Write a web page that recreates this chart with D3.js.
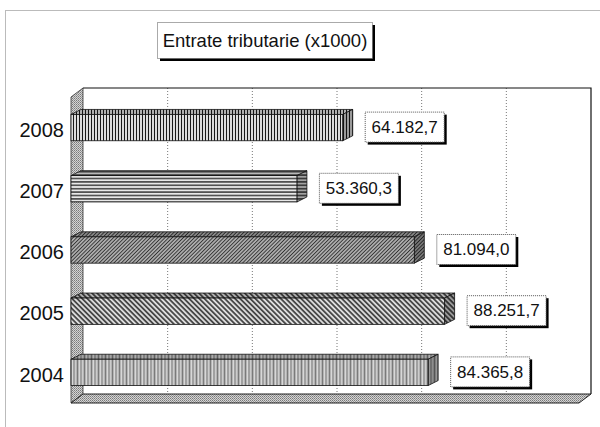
<!DOCTYPE html>
<html>
<head>
<meta charset="utf-8">
<script src="https://cdn.jsdelivr.net/npm/d3@7"></script>
<style>
  body { margin: 0; background: #fff; }
  text { font-family: Arial, "Liberation Sans", sans-serif; fill: #111; }
</style>
</head>
<body>
<div id="chart"></div>
<script>
// data
const years = ['2008', '2007', '2006', '2005', '2004'];
const values = [64182.7, 53360.3, 81094.0, 88251.7, 84365.8];
const patterns = ['pVert', 'pHorz', 'pDiagA', 'pDiagB', 'pGray'];
const axisMax = 120000;
const gridStep = 20000;
const title = 'Entrate tributarie (x1000)';

const width = 600, height = 427;
const ro = d3.formatLocale({ decimal: ',', thousands: '.', grouping: [3], currency: ['', ''] });
const fmt = ro.format(',.1f');

const svg = d3.select('#chart').append('svg')
  .attr('width', width)
  .attr('height', height);

const defs = svg.append('defs');

// hatch patterns used by the bars
function linePattern(id, size, bg, stroke, sw, rot, horizontal) {
  const p = defs.append('pattern')
    .attr('id', id)
    .attr('patternUnits', 'userSpaceOnUse')
    .attr('width', size).attr('height', size);
  if (rot) p.attr('patternTransform', `rotate(${rot})`);
  p.append('rect').attr('width', size).attr('height', size).attr('fill', bg);
  if (horizontal) {
    p.append('line').attr('x1', 0).attr('x2', size).attr('y1', size / 2).attr('y2', size / 2)
      .attr('stroke', stroke).attr('stroke-width', sw);
  } else {
    p.append('line').attr('y1', 0).attr('y2', size).attr('x1', size / 2).attr('x2', size / 2)
      .attr('stroke', stroke).attr('stroke-width', sw);
  }
}
linePattern('pVert', 3, '#fff', '#1a1a1a', 1.3, 0, false);
linePattern('pHorz', 3.4, '#e8e8e8', '#222', 1.3, 0, true);
linePattern('pDiagA', 2.6, '#c8c8c8', '#333', 1.2, 45, false);
linePattern('pDiagB', 3.6, '#dcdcdc', '#2a2a2a', 1.5, -45, false);

// grey noisy vertical stripes (2004)
const pg = defs.append('pattern').attr('id', 'pGray')
  .attr('patternUnits', 'userSpaceOnUse').attr('width', 7).attr('height', 4);
pg.append('rect').attr('width', 7).attr('height', 4).attr('fill', '#b4b4b4');
[[0.5, '#7a7a7a'], [2.5, '#d8d8d8'], [4, '#8c8c8c'], [5.5, '#cccccc']].forEach(([x, c]) => {
  pg.append('line').attr('x1', x).attr('x2', x).attr('y1', 0).attr('y2', 4)
    .attr('stroke', c).attr('stroke-width', 1);
});

// dotted shading for the walls
const pd = defs.append('pattern').attr('id', 'pDots')
  .attr('patternUnits', 'userSpaceOnUse').attr('width', 2).attr('height', 2);
pd.append('rect').attr('width', 2).attr('height', 2).attr('fill', '#d4d4d4');
pd.append('rect').attr('width', 1).attr('height', 1).attr('fill', '#7a7a7a');
pd.append('rect').attr('x', 1).attr('y', 1).attr('width', 1).attr('height', 1).attr('fill', '#969696');

// outer dotted frame
svg.append('rect')
  .attr('x', 5.5).attr('y', 10.5).attr('width', 620).attr('height', 440)
  .attr('fill', 'none').attr('stroke', '#777').attr('stroke-dasharray', '1,1');

// front plane scales; the back wall is shifted by the depth
const wallDx = 12, wallDy = -9;
const barDx = 10, barDy = -5;

const x = d3.scaleLinear().domain([0, axisMax]).range([71, 579]);
const y = d3.scaleBand().domain(years).range([97, 403]).paddingInner(0.57).paddingOuter(0.285);

const yTop = 97, yBot = 403;

// left wall
svg.append('path')
  .attr('d', `M${x(0)},${yTop}L${x(0) + wallDx},${yTop + wallDy}L${x(0) + wallDx},${yBot + wallDy}L${x(0)},${yBot}Z`)
  .attr('fill', 'url(#pDots)').attr('stroke', '#333').attr('stroke-width', 0.8);

// floor
svg.append('path')
  .attr('d', `M${x(0)},${yBot}L${x(0) + wallDx},${yBot + wallDy}L${x(axisMax) + wallDx},${yBot + wallDy}L${x(axisMax)},${yBot}Z`)
  .attr('fill', 'url(#pDots)').attr('stroke', '#222').attr('stroke-width', 1);

// back wall gridlines
const ticks = d3.range(gridStep, axisMax, gridStep);
svg.append('g').selectAll('line')
  .data(ticks)
  .join('line')
  .attr('x1', d => x(d) + wallDx).attr('x2', d => x(d) + wallDx)
  .attr('y1', yTop + wallDy).attr('y2', yBot + wallDy)
  .attr('stroke', '#777').attr('stroke-dasharray', '1,2');

// back wall frame (top and right)
svg.append('path')
  .attr('d', `M${x(0) + wallDx},${yTop + wallDy}H${x(axisMax) + wallDx}V${yBot + wallDy}`)
  .attr('fill', 'none').attr('stroke', '#111').attr('stroke-width', 1.2);

// bars
const bars = svg.append('g').selectAll('g')
  .data(years.map((yr, i) => ({ yr, v: values[i], pat: patterns[i] })))
  .join('g');

bars.each(function (d) {
  const g = d3.select(this);
  const x0 = x(0), x1 = x(d.v);
  const y0 = y(d.yr), y1 = y(d.yr) + y.bandwidth();
  // top face
  const top = `M${x0},${y0}L${x0 + barDx},${y0 + barDy}L${x1 + barDx},${y0 + barDy}L${x1},${y0}Z`;
  g.append('path').attr('d', top).attr('fill', `url(#${d.pat})`);
  g.append('path').attr('d', top).attr('fill', '#000').attr('fill-opacity', 0.2)
    .attr('stroke', '#111').attr('stroke-width', 0.8);
  // side face
  const side = `M${x1},${y0}L${x1 + barDx},${y0 + barDy}L${x1 + barDx},${y1 + barDy}L${x1},${y1}Z`;
  g.append('path').attr('d', side).attr('fill', `url(#${d.pat})`);
  g.append('path').attr('d', side).attr('fill', '#000').attr('fill-opacity', 0.3)
    .attr('stroke', '#111').attr('stroke-width', 0.8);
  // front face
  g.append('rect')
    .attr('x', x0).attr('y', y0)
    .attr('width', x1 - x0).attr('height', y1 - y0)
    .attr('fill', `url(#${d.pat})`)
    .attr('stroke', '#111').attr('stroke-width', 0.8);
});

// category labels
svg.append('g').selectAll('text')
  .data(years)
  .join('text')
  .attr('x', 64)
  .attr('y', d => y(d) + y.bandwidth() / 2 + 2)
  .attr('dy', '0.36em')
  .attr('text-anchor', 'end')
  .style('font-size', '20px')
  .text(d => d);

// value labels in shadowed boxes
const boxW = 79, boxH = 30, shadow = 3;
const lab = svg.append('g').selectAll('g')
  .data(years.map((yr, i) => ({ yr, v: values[i] })))
  .join('g')
  .attr('transform', d => `translate(${x(d.v) + 22},${y(d.yr) + y.bandwidth() / 2 - 1 - boxH / 2})`);
lab.append('rect').attr('x', shadow).attr('y', shadow)
  .attr('width', boxW).attr('height', boxH).attr('fill', '#000');
lab.append('rect').attr('x', 0.5).attr('y', 0.5)
  .attr('width', boxW).attr('height', boxH)
  .attr('fill', '#fff').attr('stroke', '#555').attr('stroke-dasharray', '1,1');
lab.append('text')
  .attr('x', boxW / 2 + 0.5).attr('y', boxH / 2)
  .attr('dy', '0.36em')
  .attr('text-anchor', 'middle')
  .style('font-size', '17px')
  .text(d => fmt(d.v));

// title box
const tg = svg.append('g').attr('transform', 'translate(157,22)');
tg.append('rect').attr('x', 3).attr('y', 3).attr('width', 215).attr('height', 36).attr('fill', '#000');
tg.append('rect').attr('x', 0.5).attr('y', 0.5).attr('width', 215).attr('height', 36)
  .attr('fill', '#fff').attr('stroke', '#555').attr('stroke-dasharray', '1,1');
tg.append('text')
  .attr('x', 108).attr('y', 18.5)
  .attr('dy', '0.36em')
  .attr('text-anchor', 'middle')
  .style('font-size', '18.5px')
  .text(title);
</script>
</body>
</html>
